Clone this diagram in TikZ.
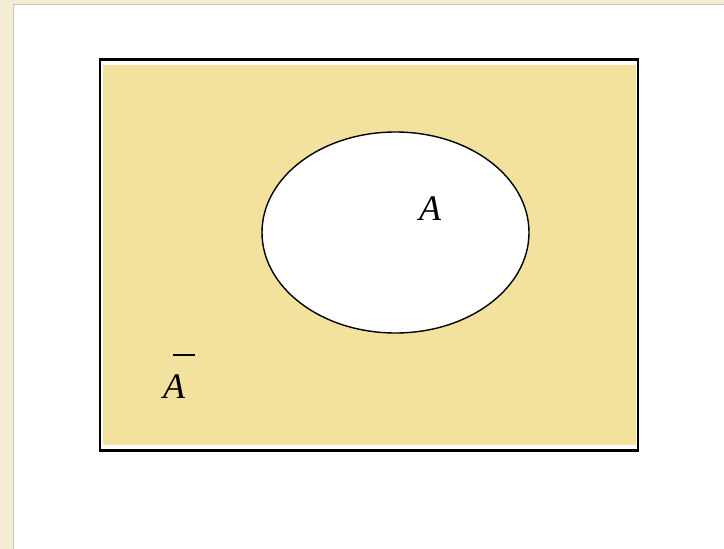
\documentclass[tikz,border=0pt]{standalone}
\usepackage{fontspec}
\setmainfont{Liberation Serif}
\usetikzlibrary{shapes.geometric}
\definecolor{creambg}{RGB}{244,236,212}
\definecolor{frameline}{RGB}{200,198,190}
\definecolor{setfill}{RGB}{243,226,158}
\tikzset{
  setlabel/.style={font=\fontsize{36}{40}\selectfont\itshape, inner sep=0pt},
  universe/.style={draw=black, line width=2.5pt},
  setshape/.style={draw=black, line width=1.4pt, fill=white}
}
\begin{document}
\begin{tikzpicture}[x=1pt,y=-1pt]
\useasboundingbox (0,0) rectangle (724,549);
% page background
\fill[creambg] (0,0) rectangle (724,549);
\fill[white] (14,5) rectangle (724,549);
\draw[frameline, line width=1pt] (13.5,549) -- (13.5,4.5) -- (724,4.5);
% universe
\fill[white] (100,59.7) rectangle (638,450.5);
\fill[setfill] (103.3,65) rectangle (636,444.5);
\draw[universe] (100,59.7) rectangle (638,450.5);
% set A
\node[setshape, ellipse, minimum width=267pt, minimum height=201pt, inner sep=0pt] (setA) at (395.5,232.5) {};
\node[setlabel] (labA) at (430,209) {A};
\node[setlabel] (labAbar) at (174,387) {A};
\draw[line width=2.2pt] (173,355) -- (195,355);
\end{tikzpicture}
\end{document}
